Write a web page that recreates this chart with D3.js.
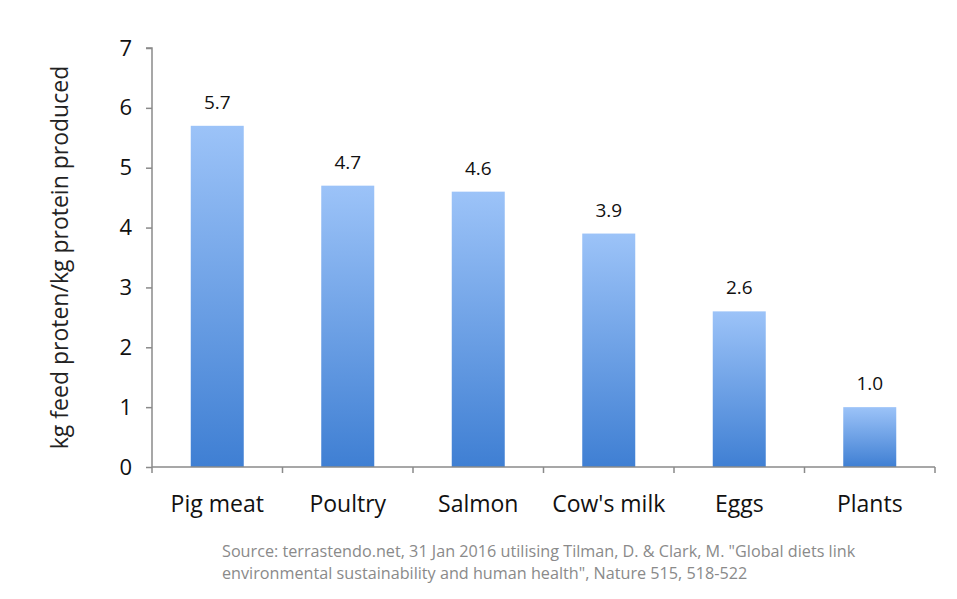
<!DOCTYPE html>
<html>
<head>
<meta charset="utf-8">
<script src="https://cdn.jsdelivr.net/npm/d3@7"></script>
<style>
  html, body { margin: 0; padding: 0; background: #fff; }
  svg { display: block; font-family: "Open Sans", "Noto Sans", sans-serif; }
</style>
</head>
<body>
<svg id="chart" width="957" height="599"></svg>
<script>
// Feed protein needed per unit of protein produced
const categories = ["Pig meat", "Poultry", "Salmon", "Cow's milk", "Eggs", "Plants"];
const values = [5.7, 4.7, 4.6, 3.9, 2.6, 1.0];
const yTicks = [0, 1, 2, 3, 4, 5, 6, 7];
const yLabel = "kg feed proten/kg protein produced";
const sourceLines = [
  "Source: terrastendo.net, 31 Jan 2016 utilising Tilman, D. & Clark, M. \"Global diets link",
  "environmental sustainability and human health\", Nature 515, 518-522"
];

const svg = d3.select("#chart");
const margin = { left: 152, right: 22, top: 48, bottom: 132 };
const W = 957, H = 599;
const x0 = margin.left, x1 = W - margin.right;
const y0 = H - margin.bottom, y1 = margin.top;

const x = d3.scaleBand().domain(categories).range([x0, x1]).paddingInner(0).paddingOuter(0);
const y = d3.scaleLinear().domain([0, 7]).range([y0, y1]);

const axisColor = "#8a8a8a";

// bar gradient: light top to deeper blue at the base
const defs = svg.append("defs");
const grad = defs.append("linearGradient")
  .attr("id", "barGrad").attr("x1", 0).attr("y1", 0).attr("x2", 0).attr("y2", 1);
grad.append("stop").attr("offset", "0%").attr("stop-color", "#9cc3f8");
grad.append("stop").attr("offset", "100%").attr("stop-color", "#3f7fd3");

const barW = 53;
svg.append("g").selectAll("rect")
  .data(values)
  .join("rect")
  .attr("x", (d, i) => x(categories[i]) + x.bandwidth() / 2 - barW / 2)
  .attr("y", d => y(d))
  .attr("width", barW)
  .attr("height", d => y(0) - y(d))
  .attr("fill", "url(#barGrad)");

// value labels
svg.append("g").selectAll("text")
  .data(values)
  .join("text")
  .attr("x", (d, i) => x(categories[i]) + x.bandwidth() / 2)
  .attr("y", d => y(d) - 17)
  .attr("text-anchor", "middle")
  .attr("font-size", 19)
  .attr("fill", "#111")
  .text(d => d.toFixed(1));

// y axis
const yAxis = d3.axisLeft(y).tickValues(yTicks).tickSize(6).tickPadding(14).tickFormat(d3.format("d"));
const gy = svg.append("g").attr("transform", `translate(${x0},0)`).call(yAxis);
gy.select(".domain").attr("stroke", axisColor).attr("stroke-width", 1.5).attr("d", `M-6,${y1}H0V${y0}`);
gy.selectAll(".tick line").attr("stroke", axisColor).attr("stroke-width", 1.5);
gy.selectAll(".tick text").attr("font-size", 22).attr("fill", "#111").attr("font-family", "\"Open Sans\", sans-serif");

// x axis with ticks at the category boundaries
const gx = svg.append("g").attr("transform", `translate(0,${y0})`);
gx.append("line").attr("x1", x0).attr("x2", x1).attr("y1", 0).attr("y2", 0)
  .attr("stroke", axisColor).attr("stroke-width", 1.5);
const boundaries = categories.map(c => x(c)).concat([x1]);
gx.selectAll("line.bt").data(boundaries).join("line").attr("class", "bt")
  .attr("x1", d => d).attr("x2", d => d).attr("y1", 0).attr("y2", 6)
  .attr("stroke", axisColor).attr("stroke-width", 1.5);
gx.selectAll("text").data(categories).join("text")
  .attr("x", d => x(d) + x.bandwidth() / 2)
  .attr("y", 45)
  .attr("text-anchor", "middle")
  .attr("font-size", 23)
  .attr("fill", "#111")
  .text(d => d);

// y axis title
svg.append("text")
  .attr("transform", `translate(68,${(y0 + y1) / 2}) rotate(-90)`)
  .attr("text-anchor", "middle")
  .attr("font-size", 23)
  .attr("fill", "#222")
  .text(yLabel);

// source note
svg.append("g").selectAll("text").data(sourceLines).join("text")
  .attr("x", 222)
  .attr("y", (d, i) => 557 + i * 22)
  .attr("font-size", 16.2)
  .attr("fill", "#8a8a8a")
  .text(d => d);
</script>
</body>
</html>
